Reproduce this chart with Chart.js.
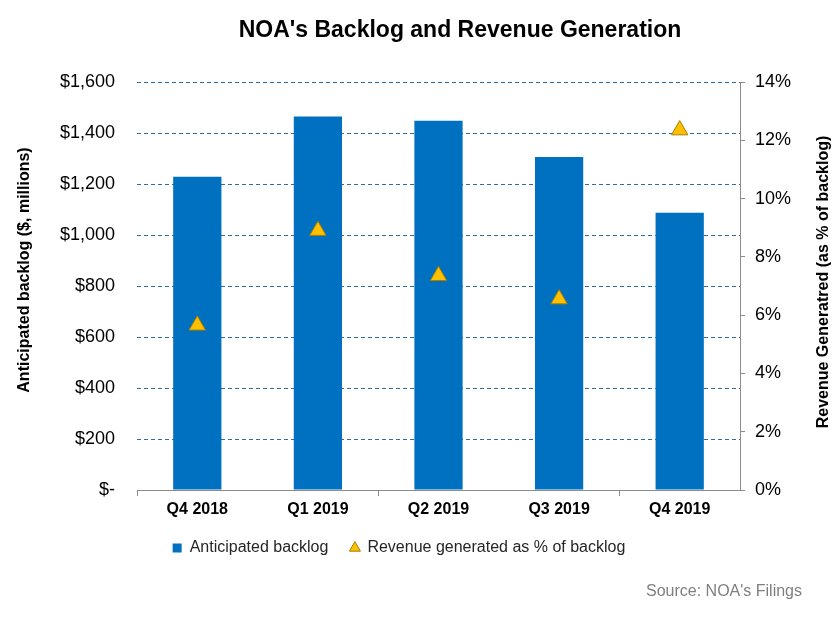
<!DOCTYPE html>
<html><head><meta charset="utf-8">
<script src="https://cdn.jsdelivr.net/npm/chart.js@4.4.1/dist/chart.umd.min.js"></script>
<style>html,body{margin:0;padding:0;background:#fff}#wrap{width:839px;height:617px}</style>
</head><body><div id="wrap"><canvas id="c" width="839" height="617"></canvas></div>
<script>
const categories = ['Q4 2018', 'Q1 2019', 'Q2 2019', 'Q3 2019', 'Q4 2019'];
const backlog = [1228, 1465, 1448, 1306, 1087];
const revenuePct = [5.65, 8.9, 7.35, 6.55, 12.35];
const leftTickValues = [0, 200, 400, 600, 800, 1000, 1200, 1400, 1600];
const rightTickValues = [0, 2, 4, 6, 8, 10, 12, 14];
const titleText = "NOA's Backlog and Revenue Generation";
const leftTitle = 'Anticipated backlog ($, millions)';
const rightTitle = 'Revenue Generatred (as % of backlog)';
const sourceText = "Source: NOA's Filings";

const FONT = "'Liberation Sans', Arial, sans-serif";
const GRAY = '#8C8C8C';
const GRID = '#2E6E9E';

const textPlugin = {
  id: 'texts',
  afterDraw(chart) {
    const ctx = chart.ctx;
    ctx.save();
    ctx.fillStyle = '#000';
    ctx.font = 'bold 23px ' + FONT;
    ctx.textAlign = 'center';
    ctx.textBaseline = 'alphabetic';
    ctx.fillText(titleText, 460, 37);

    ctx.font = 'bold 16px ' + FONT;
    ctx.textBaseline = 'middle';
    ctx.save();
    ctx.translate(25, 270);
    ctx.rotate(-Math.PI / 2);
    ctx.fillText(leftTitle, 0, 0);
    ctx.restore();
    ctx.save();
    ctx.translate(824, 282);
    ctx.rotate(-Math.PI / 2);
    ctx.fillText(rightTitle, 0, 0);
    ctx.restore();

    ctx.font = '16px ' + FONT;
    ctx.fillStyle = '#7F7F7F';
    ctx.textAlign = 'right';
    ctx.textBaseline = 'alphabetic';
    ctx.fillText(sourceText, 802, 596);
    ctx.restore();
  }
};

new Chart(document.getElementById('c'), {
  type: 'bar',
  data: {
    labels: categories,
    datasets: [
      {
        type: 'bar',
        label: 'Anticipated backlog',
        data: backlog,
        backgroundColor: '#0070C0',
        borderWidth: 0,
        barPercentage: 0.4,
        categoryPercentage: 1.0,
        yAxisID: 'y',
        order: 1,
        pointStyle: 'rect'
      },
      {
        type: 'line',
        label: 'Revenue generated as % of backlog',
        data: revenuePct,
        showLine: false,
        pointStyle: 'triangle',
        pointRadius: 9.5,
        pointHoverRadius: 9.5,
        pointBackgroundColor: '#FFC000',
        pointBorderColor: '#A67C00',
        pointBorderWidth: 1,
        backgroundColor: '#FFC000',
        borderColor: '#A67C00',
        borderWidth: 1,
        yAxisID: 'y1',
        order: 0
      }
    ]
  },
  options: {
    responsive: false,
    devicePixelRatio: 1,
    animation: false,
    layout: { padding: { left: 5, right: 46, top: 82, bottom: 51 } },
    plugins: {
      title: { display: false },
      tooltip: { enabled: false },
      legend: {
        position: 'bottom',
        labels: {
          usePointStyle: true,
          boxWidth: 9,
          boxHeight: 9,
          padding: 22,
          color: '#262626',
          font: { family: FONT, size: 16 },
          sort: (a, b) => a.datasetIndex - b.datasetIndex
        }
      }
    },
    scales: {
      x: {
        grid: {
          offset: true,
          drawOnChartArea: false,
          drawTicks: true,
          tickLength: 6,
          color: (c) => (c.index !== undefined && c.index % 2 === 0) ? GRAY : 'rgba(0,0,0,0)'
        },
        border: { display: true, color: GRAY },
        ticks: {
          color: '#000',
          font: { family: FONT, size: 16, weight: 'bold' },
          padding: 4,
          maxRotation: 0,
          autoSkip: false
        },
        afterFit: (s) => { s.height = 28; }
      },
      y: {
        position: 'left',
        min: 0,
        max: 1600,
        afterBuildTicks: (s) => { s.ticks = leftTickValues.map(v => ({ value: v })); },
        grid: {
          drawTicks: false,
          lineWidth: 1,
          color: (c) => (c.tick && c.tick.value === 0) ? 'rgba(0,0,0,0)' : GRID
        },
        border: { display: false, dash: [4, 3] },
        ticks: {
          padding: 22,
          color: '#000',
          font: { family: FONT, size: 18 },
          callback: (v) => v === 0 ? '$-' : '$' + Number(v).toLocaleString('en-US')
        },
        afterFit: (s) => { s.width = 132; }
      },
      y1: {
        position: 'right',
        min: 0,
        max: 14,
        afterBuildTicks: (s) => { s.ticks = rightTickValues.map(v => ({ value: v })); },
        grid: {
          drawOnChartArea: false,
          drawTicks: true,
          tickLength: 5,
          color: GRAY
        },
        border: { display: true, color: GRAY },
        ticks: {
          padding: 10,
          color: '#000',
          font: { family: FONT, size: 18 },
          callback: (v) => v + '%'
        },
        afterFit: (s) => { s.width = 53; }
      }
    }
  },
  plugins: [textPlugin]
});
</script>
</body></html>
